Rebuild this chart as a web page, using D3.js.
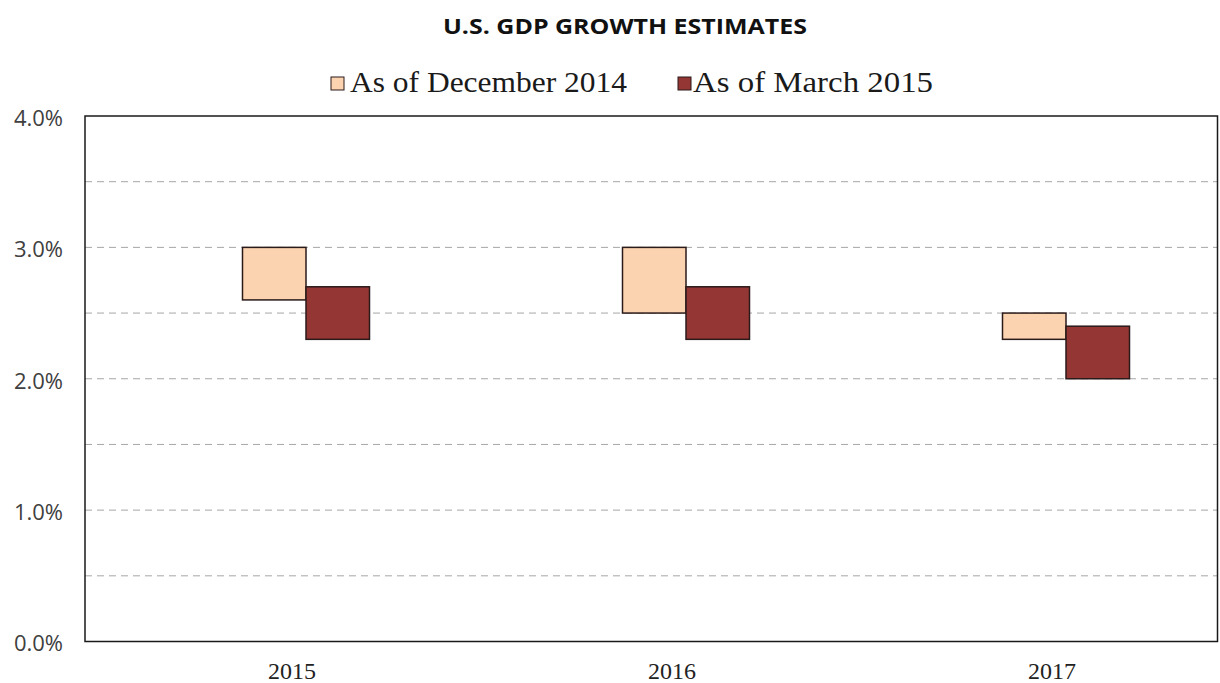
<!DOCTYPE html>
<html>
<head>
<meta charset="utf-8">
<script src="https://cdn.jsdelivr.net/npm/d3@7"></script>
<style>
  body { margin: 0; background: #fff; }
  svg { display: block; }
</style>
</head>
<body>
<div id="chart"></div>
<script>
const years = ['2015', '2016', '2017'];
const seriesNames = ['As of December 2014', 'As of March 2015'];
// range of each estimate, low / high (%)
const decLow = [2.6, 2.5, 2.3];
const decHigh = [3.0, 3.0, 2.5];
const marLow = [2.3, 2.3, 2.0];
const marHigh = [2.7, 2.7, 2.4];
const yTicks = [0, 1, 2, 3, 4];
const gridTicks = [0.5, 1, 1.5, 2, 2.5, 3, 3.5];

const colors = ['#fcd3b0', '#943634'];

const svgWidth = 1220;
const svgHeight = 683;
const margin = { top: 116, right: 2, bottom: 41.5, left: 85 };
const width = svgWidth - margin.left - margin.right;
const height = svgHeight - margin.top - margin.bottom;

const svg = d3.select('#chart').append('svg')
  .attr('width', svgWidth)
  .attr('height', svgHeight);

svg.append('text')
  .attr('x', 625)
  .attr('y', 34)
  .attr('text-anchor', 'middle')
  .attr('textLength', 364)
  .attr('lengthAdjust', 'spacingAndGlyphs')
  .style('font-family', '"Open Sans", sans-serif')
  .style('font-weight', 'bold')
  .style('font-size', '22px')
  .attr('fill', '#111')
  .text('U.S. GDP GROWTH ESTIMATES');

// legend
const legendX = [331, 678];
const legendLen = [277, 240];
const legend = svg.append('g');
seriesNames.forEach((name, i) => {
  legend.append('rect')
    .attr('x', legendX[i])
    .attr('y', 77)
    .attr('width', 13)
    .attr('height', 13)
    .attr('fill', colors[i])
    .attr('stroke', '#2a1a1a')
    .attr('stroke-width', 1);
  legend.append('text')
    .attr('x', legendX[i] + (i ? 15 : 19))
    .attr('y', 92)
    .attr('textLength', legendLen[i])
    .attr('lengthAdjust', 'spacingAndGlyphs')
    .style('font-family', '"Liberation Serif", "Times New Roman", serif')
    .style('font-size', '29px')
    .attr('fill', '#1a1a1a')
    .text(name);
});

const g = svg.append('g')
  .attr('transform', `translate(${margin.left},${margin.top})`);

const y = d3.scaleLinear().domain([0, 4]).range([height, 0]);

// category centres sit a bit right of the frame's thirds
const x = d3.scaleBand()
  .domain(years)
  .range([17, 17 + 3 * 380]);

const barW = 63.5;
const barShift = 14;

// grid
g.append('g')
  .selectAll('line')
  .data(gridTicks)
  .join('line')
  .attr('x1', 0)
  .attr('x2', width)
  .attr('y1', d => y(d))
  .attr('y2', d => y(d))
  .attr('stroke', '#a6a6a6')
  .attr('stroke-width', 1)
  .attr('stroke-dasharray', '7,5');

// y axis labels
const yAxis = g.append('g')
  .call(d3.axisLeft(y)
    .tickValues(yTicks)
    .tickFormat(d => d3.format('.1f')(d) + '%')
    .tickSize(0)
    .tickPadding(22));
yAxis.select('.domain').remove();
yAxis.selectAll('text')
  .attr('dy', '0.42em')
  .style('font-family', '"Open Sans", sans-serif')
  .style('font-size', '22px')
  .attr('fill', '#404040');

// x axis labels
const xAxis = g.append('g')
  .attr('transform', `translate(0,${height})`)
  .call(d3.axisBottom(x).tickSize(0).tickPadding(20));
xAxis.select('.domain').remove();
xAxis.selectAll('text')
  .style('font-family', '"Liberation Serif", "Times New Roman", serif')
  .style('font-size', '24px')
  .attr('fill', '#222');

// floating bars
const bars = [
  { low: decLow, high: decHigh, off: -barW },
  { low: marLow, high: marHigh, off: 0 },
];
bars.forEach((s, i) => {
  g.append('g')
    .selectAll('rect')
    .data(years)
    .join('rect')
    .attr('x', (d) => x(d) + x.bandwidth() / 2 + barShift + s.off)
    .attr('y', (d, j) => y(s.high[j]))
    .attr('width', barW)
    .attr('height', (d, j) => y(s.low[j]) - y(s.high[j]))
    .attr('fill', colors[i])
    .attr('stroke', '#2a1a1a')
    .attr('stroke-width', 1.5);
});

// frame
g.append('rect')
  .attr('x', 0)
  .attr('y', 0)
  .attr('width', width - 0.5)
  .attr('height', height)
  .attr('fill', 'none')
  .attr('stroke', '#1a1a1a')
  .attr('stroke-width', 1.5);
</script>
</body>
</html>
